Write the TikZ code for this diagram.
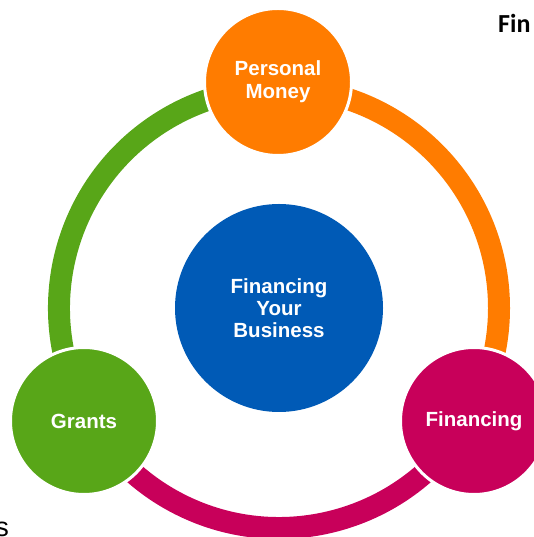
\documentclass[tikz,border=0pt]{standalone}
\usepackage{fontspec}
\setmainfont{Liberation Sans}
\newfontfamily\carlito{Carlito}
\definecolor{corange}{RGB}{255,124,0}
\definecolor{cmagenta}{RGB}{200,0,90}
\definecolor{cgreen}{RGB}{88,166,24}
\definecolor{cblue}{RGB}{0,90,182}
\tikzset{
  ringarc/.style={line width=22pt},
  sat/.style={circle, minimum size=147pt, inner sep=0pt, draw=white, line width=3pt,
    text=white, font=\bfseries\fontsize{20.5}{23}\selectfont, align=center},
  hub/.style={circle, minimum size=208pt, inner sep=0pt, fill=cblue,
    text=white, font=\bfseries\fontsize{20.5}{22}\selectfont, align=center}
}
\begin{document}
\begin{tikzpicture}[x=1pt,y=1pt]
\useasboundingbox (0,0) rectangle (534,537);
\clip (0,0) rectangle (534,537);
\coordinate (C) at (279,229);
% ring arcs
\draw[ringarc, corange] (C) ++(90:220pt) arc[start angle=90, end angle=-30, radius=220pt];
\draw[ringarc, cmagenta] (C) ++(-30:220pt) arc[start angle=-30, end angle=-150, radius=220pt];
\draw[ringarc, cgreen] (C) ++(210:220pt) arc[start angle=210, end angle=90, radius=220pt];
% nodes
\node[hub] (hub) at (C) {Financing\\Your\\Business};
\node[sat, fill=corange] (pm) at (278,455) {Personal\\Money};
\node[sat, fill=cmagenta] (fin) at (474,116) {Financing};
\node[sat, fill=cgreen] (gr) at (84,116) {Grants};
% cut-off texts
\node[anchor=base west, inner sep=0pt, font=\carlito\bfseries\fontsize{26}{30}\selectfont] (fintxt) at (498,504) {Fin};
\node[anchor=base east, inner sep=0pt, font=\fontsize{27}{30}\selectfont] (stxt) at (9,1) {s};
\end{tikzpicture}
\end{document}
